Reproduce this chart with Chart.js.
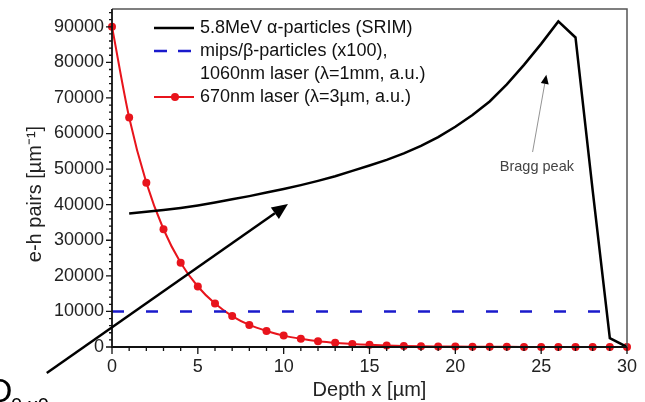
<!DOCTYPE html>
<html>
<head>
<meta charset="utf-8">
<script src="https://cdn.jsdelivr.net/npm/chart.js@4.4.1/dist/chart.umd.min.js"></script>
<style>
  html, body { margin: 0; padding: 0; background: #fff; }
  #wrap { width: 645px; height: 402px; position: relative; }
</style>
</head>
<body>
<div id="wrap"><canvas id="chart"></canvas></div>
<script>
// SRIM curve, 5.8 MeV alpha particles
const srimDepth = [1, 2, 3, 4, 5, 6, 7, 8, 9, 10, 11, 12, 13, 14, 15, 16, 17, 18, 19, 20, 21, 22, 23, 24, 25, 26, 27, 28, 29, 30]
const srimPairs = [37500, 38000, 38500, 39100, 39800, 40600, 41500, 42400, 43400, 44400, 45500, 46700, 48000, 49500, 51000, 52600, 54400, 56500, 59000, 61900, 65200, 69000, 73800, 79300, 85200, 91500, 87000, 44000, 2500, 0]

// mips / beta particles (x100), 1060nm laser
const mipsDepth = [0, 29]
const mipsPairs = [10000, 10000]

// 670nm laser
const laserDepth = [0, 1, 2, 3, 4, 5, 6, 7, 8, 9, 10, 11, 12, 13, 14, 15, 16, 17, 18, 19, 20, 21, 22, 23, 24, 25, 26, 27, 28, 29, 30]
const laserPairs = [90000, 64500, 46200, 33100, 23700, 17000, 12200, 8700, 6200, 4500, 3200, 2300, 1600, 1200, 850, 600, 430, 310, 220, 160, 110, 80, 60, 40, 30, 20, 15, 10, 8, 5, 4]

const legendLabels = [
  ["5.8MeV \u03b1-particles (SRIM)"],
  ["mips/\u03b2-particles (x100),", "1060nm laser (\u03bb=1mm, a.u.)"],
  ["670nm laser (\u03bb=3\u00b5m, a.u.)"]
]

const xMajor = [0, 5, 10, 15, 20, 25, 30]
const yMajor = [0, 10000, 20000, 30000, 40000, 50000, 60000, 70000, 80000, 90000]

const FONT = "'Liberation Sans', Arial, sans-serif"

const toPoints = (xs, ys) => xs.map((x, i) => ({ x: x, y: ys[i] }))

// draws the frame, tick marks, legend, y title and the two arrows
const decorations = {
  id: 'decorations',
  afterDatasetsDraw(chart) {
    const { ctx, chartArea: a, scales: { x, y } } = chart
    ctx.save()

    // top / right frame
    ctx.strokeStyle = '#555'
    ctx.lineWidth = 1.5
    ctx.beginPath()
    ctx.moveTo(a.left, a.top)
    ctx.lineTo(a.right, a.top)
    ctx.lineTo(a.right, a.bottom)
    ctx.stroke()

    // axes
    ctx.strokeStyle = '#111'
    ctx.lineWidth = 1.8
    ctx.beginPath()
    ctx.moveTo(a.left, a.top)
    ctx.lineTo(a.left, a.bottom)
    ctx.lineTo(a.right, a.bottom)
    ctx.stroke()

    // tick marks
    ctx.lineWidth = 1.3
    ctx.beginPath()
    for (let v = 0; v <= 30; v++) {
      const px = x.getPixelForValue(v)
      const len = v % 5 === 0 ? 7 : 4
      ctx.moveTo(px, a.bottom)
      ctx.lineTo(px, a.bottom + len)
    }
    for (let v = 0; v <= 94000; v += 2000) {
      const py = y.getPixelForValue(v)
      const len = v % 10000 === 0 ? 6 : 3
      ctx.moveTo(a.left, py)
      ctx.lineTo(a.left - len, py)
    }
    ctx.stroke()

    // y axis title, sits a little below the middle of the axis
    ctx.save()
    ctx.translate(35, y.getPixelForValue(43000))
    ctx.rotate(-Math.PI / 2)
    ctx.font = '20px ' + FONT
    ctx.fillStyle = '#222'
    ctx.textAlign = 'center'
    ctx.textBaseline = 'middle'
    ctx.fillText('e-h pairs [\u00b5m\u207b\u00b9]', 0, 0)
    ctx.restore()

    // legend
    const lx = a.left + 42
    const tx = a.left + 88
    let ly = a.top + 19
    ctx.font = '18px ' + FONT
    ctx.textBaseline = 'middle'
    ctx.fillStyle = '#111'
    chart.data.datasets.forEach((ds, i) => {
      ctx.strokeStyle = ds.borderColor
      ctx.lineWidth = ds.borderWidth
      ctx.setLineDash(ds.borderDash ? [13, 11] : [])
      ctx.beginPath()
      ctx.moveTo(lx, ly)
      ctx.lineTo(lx + 40, ly)
      ctx.stroke()
      ctx.setLineDash([])
      if (ds.pointRadius > 0) {
        ctx.fillStyle = ds.pointBackgroundColor
        ctx.beginPath()
        ctx.arc(lx + 21, ly, ds.pointRadius, 0, Math.PI * 2)
        ctx.fill()
      }
      ctx.fillStyle = '#111'
      legendLabels[i].forEach(t => {
        ctx.fillText(t, tx, ly)
        ly += 23
      })
    })

    // arrows
    const arrow = (x0, y0, x1, y1, w, head, half, color) => {
      const p0 = [x.getPixelForValue(x0), y.getPixelForValue(y0)]
      const p1 = [x.getPixelForValue(x1), y.getPixelForValue(y1)]
      const ang = Math.atan2(p1[1] - p0[1], p1[0] - p0[0])
      const bx = p1[0] - head * Math.cos(ang)
      const by = p1[1] - head * Math.sin(ang)
      ctx.strokeStyle = color
      ctx.lineWidth = w
      ctx.beginPath()
      ctx.moveTo(p0[0], p0[1])
      ctx.lineTo(bx, by)
      ctx.stroke()
      ctx.fillStyle = '#000'
      ctx.beginPath()
      ctx.moveTo(p1[0], p1[1])
      ctx.lineTo(bx + half * Math.sin(ang), by - half * Math.cos(ang))
      ctx.lineTo(bx - half * Math.sin(ang), by + half * Math.cos(ang))
      ctx.closePath()
      ctx.fill()
    }
    arrow(-3.8, -7300, 10.25, 40200, 2.5, 16, 7, '#000')
    arrow(24.5, 54800, 25.3, 76500, 0.8, 9, 4, '#777')

    ctx.fillStyle = '#444'
    ctx.font = '14.5px ' + FONT
    ctx.textAlign = 'center'
    ctx.fillText('Bragg peak', x.getPixelForValue(24.75), y.getPixelForValue(50600))

    // Q0,x0 label, cut by the picture edge
    ctx.textAlign = 'left'
    ctx.textBaseline = 'alphabetic'
    ctx.fillStyle = '#000'
    ctx.font = '34px ' + FONT
    ctx.fillText('Q', -14, 402)
    ctx.font = '20px ' + FONT
    ctx.fillText('0,x0', 11, 412)

    ctx.restore()
  }
}

new Chart(document.getElementById('chart'), {
  type: 'line',
  data: {
    datasets: [
      {
        label: legendLabels[0].join(' '),
        data: toPoints(srimDepth, srimPairs),
        borderColor: '#000',
        borderWidth: 2.5,
        pointRadius: 0,
        tension: 0
      },
      {
        label: legendLabels[1].join(' '),
        data: toPoints(mipsDepth, mipsPairs),
        borderColor: '#1a1acc',
        borderWidth: 2.5,
        borderDash: [12, 22],
        pointRadius: 0
      },
      {
        label: legendLabels[2].join(' '),
        data: toPoints(laserDepth, laserPairs),
        borderColor: '#e8141c',
        backgroundColor: '#e8141c',
        pointBackgroundColor: '#e8141c',
        pointBorderWidth: 0,
        borderWidth: 2,
        pointRadius: 4,
        cubicInterpolationMode: 'monotone',
        clip: false
      }
    ]
  },
  plugins: [decorations],
  options: {
    responsive: true,
    maintainAspectRatio: false,
    animation: false,
    layout: { padding: { top: 9, right: 18, left: 0, bottom: 0 } },
    plugins: {
      legend: { display: false },
      tooltip: { enabled: false }
    },
    scales: {
      x: {
        type: 'linear',
        min: 0,
        max: 30,
        afterBuildTicks: s => { s.ticks = xMajor.map(v => ({ value: v })) },
        afterFit: s => { s.height = 55; s.paddingLeft = 0; s.paddingRight = 0 },
        grid: { display: false, drawTicks: false },
        border: { display: false },
        ticks: { padding: 9, color: '#222', font: { family: FONT, size: 18 }, callback: v => String(v) },
        title: {
          display: true,
          text: 'Depth x [\u00b5m]',
          color: '#222',
          padding: { top: 0, bottom: 0 },
          font: { family: FONT, size: 20 }
        }
      },
      y: {
        type: 'linear',
        min: 0,
        max: 95000,
        afterBuildTicks: s => { s.ticks = yMajor.map(v => ({ value: v })) },
        afterFit: s => { s.width = 112; s.paddingTop = 0; s.paddingBottom = 0 },
        grid: { display: false, drawTicks: false },
        border: { display: false },
        ticks: { padding: 8, color: '#222', font: { family: FONT, size: 18 }, callback: v => String(v) }
      }
    }
  }
})
</script>
</body>
</html>
